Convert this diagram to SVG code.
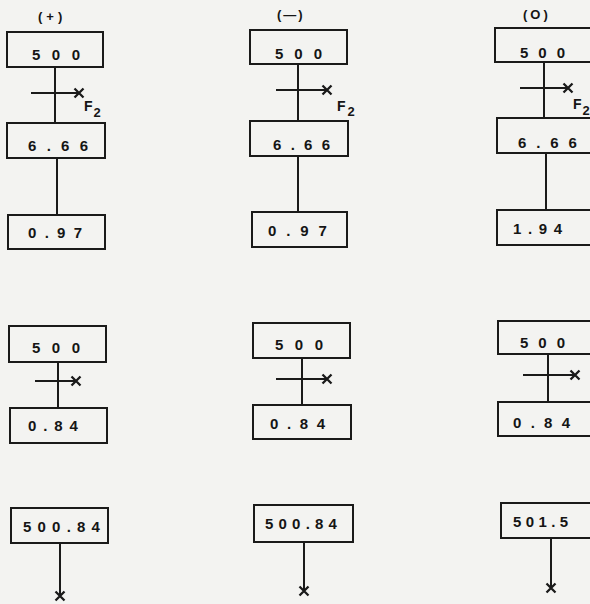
<svg xmlns="http://www.w3.org/2000/svg" width="590" height="604" viewBox="0 0 590 604">
<style>
.bg{fill:#f3f3f1}
.box{fill:none;stroke:#1a1a1a;stroke-width:2}
.ln{fill:none;stroke:#1a1a1a;stroke-width:2}
.t{font-family:"Liberation Sans",Arial,sans-serif;font-weight:bold;font-size:15px;fill:#151515}
.h{font-family:"Liberation Sans",Arial,sans-serif;font-weight:bold;font-size:13px;fill:#151515}
.f{font-family:"Liberation Sans",Arial,sans-serif;font-weight:bold;font-size:14px;fill:#151515}
.s{font-size:13px}
</style>
<defs>
<marker id="x" viewBox="0 0 12 12" refX="6" refY="6" markerWidth="12" markerHeight="12" markerUnits="userSpaceOnUse" orient="auto">
<path d="M1.5,1.5 L10.5,10.5 M10.5,1.5 L1.5,10.5" stroke="#1a1a1a" stroke-width="2.3" fill="none"/>
</marker>
</defs>
<rect class="bg" x="0" y="0" width="590" height="604"/>

<g id="headers">
<text class="h" x="38" y="21" letter-spacing="4">(+)</text>
<text class="h" x="277" y="19" letter-spacing="2">(—)</text>
<text class="h" x="523" y="19" letter-spacing="3">(O)</text>
</g>

<g id="connectors">
<line class="ln" x1="55" y1="67" x2="55" y2="123"/>
<line class="ln" x1="31" y1="93" x2="79" y2="93" marker-end="url(#x)"/>
<line class="ln" x1="57" y1="158" x2="57" y2="215"/>
<line class="ln" x1="298" y1="64" x2="298" y2="121"/>
<line class="ln" x1="276" y1="90" x2="327" y2="90" marker-end="url(#x)"/>
<line class="ln" x1="298" y1="156" x2="298" y2="212"/>
<line class="ln" x1="544" y1="62" x2="544" y2="118"/>
<line class="ln" x1="520" y1="88" x2="568" y2="88" marker-end="url(#x)"/>
<line class="ln" x1="546" y1="153" x2="546" y2="210"/>

<line class="ln" x1="58" y1="362" x2="58" y2="408"/>
<line class="ln" x1="35" y1="381" x2="76" y2="381" marker-end="url(#x)"/>
<line class="ln" x1="302" y1="358" x2="302" y2="405"/>
<line class="ln" x1="276" y1="379" x2="327" y2="379" marker-end="url(#x)"/>
<line class="ln" x1="548" y1="354" x2="548" y2="402"/>
<line class="ln" x1="523" y1="375" x2="575" y2="375" marker-end="url(#x)"/>

<line class="ln" x1="60" y1="543" x2="60" y2="596" marker-end="url(#x)"/>
<line class="ln" x1="304" y1="542" x2="304" y2="591" marker-end="url(#x)"/>
<line class="ln" x1="551" y1="538" x2="551" y2="588" marker-end="url(#x)"/>
</g>

<g id="f2-labels">
<text class="f" x="84" y="111">F<tspan class="s" dx="1" dy="6">2</tspan></text>
<text class="f" x="337" y="111">F<tspan class="s" dx="2" dy="5">2</tspan></text>
<text class="f" x="573" y="109">F<tspan class="s" dx="1" dy="6">2</tspan></text>
</g>

<g id="n-plus-500"><rect class="box" x="7" y="32" width="96" height="35"/><text class="t" x="32" y="60" letter-spacing="11.5">500</text></g>
<g id="n-plus-666"><rect class="box" x="7" y="123" width="98" height="35"/><text class="t" x="28" y="151" letter-spacing="10.3">6.66</text></g>
<g id="n-plus-097"><rect class="box" x="8" y="215" width="97" height="34"/><text class="t" x="28" y="238" letter-spacing="8.3">0.97</text></g>

<g id="n-minus-500"><rect class="box" x="250" y="30" width="97" height="34"/><text class="t" x="275" y="59" letter-spacing="11">500</text></g>
<g id="n-minus-666"><rect class="box" x="250" y="121" width="98" height="35"/><text class="t" x="273" y="150" letter-spacing="9.3">6.66</text></g>
<g id="n-minus-097"><rect class="box" x="252" y="212" width="95" height="35"/><text class="t" x="268" y="236" letter-spacing="9.9">0.97</text></g>

<g id="n-zero-500"><rect class="box" x="495" y="28" width="100" height="34"/><text class="t" x="520" y="58" letter-spacing="10">500</text></g>
<g id="n-zero-666"><rect class="box" x="497" y="118" width="98" height="35"/><text class="t" x="518" y="148" letter-spacing="9.9">6.66</text></g>
<g id="n-zero-194"><rect class="box" x="497" y="210" width="98" height="35"/><text class="t" x="513" y="234" letter-spacing="6.6">1.94</text></g>

<g id="n-plus-500b"><rect class="box" x="9" y="326" width="97" height="36"/><text class="t" x="32" y="353" letter-spacing="11.5">500</text></g>
<g id="n-plus-084"><rect class="box" x="10" y="408" width="97" height="35"/><text class="t" x="28" y="431" letter-spacing="6.9">0.84</text></g>
<g id="n-minus-500b"><rect class="box" x="253" y="323" width="97" height="35"/><text class="t" x="275" y="350" letter-spacing="11.5">500</text></g>
<g id="n-minus-084"><rect class="box" x="253" y="405" width="98" height="34"/><text class="t" x="270" y="429" letter-spacing="8.6">0.84</text></g>
<g id="n-zero-500b"><rect class="box" x="498" y="321" width="97" height="33"/><text class="t" x="520" y="348" letter-spacing="10">500</text></g>
<g id="n-zero-084"><rect class="box" x="498" y="402" width="97" height="34"/><text class="t" x="513" y="428" letter-spacing="9.3">0.84</text></g>

<g id="n-plus-50084"><rect class="box" x="11" y="508" width="97" height="35"/><text class="t" x="23" y="532" letter-spacing="6.2">500.84</text></g>
<g id="n-minus-50084"><rect class="box" x="254" y="505" width="99" height="37"/><text class="t" x="265" y="529" letter-spacing="5.2">500.84</text></g>
<g id="n-zero-5015"><rect class="box" x="501" y="503" width="94" height="35"/><text class="t" x="513" y="527" letter-spacing="4.4">501.5</text></g>
</svg>
